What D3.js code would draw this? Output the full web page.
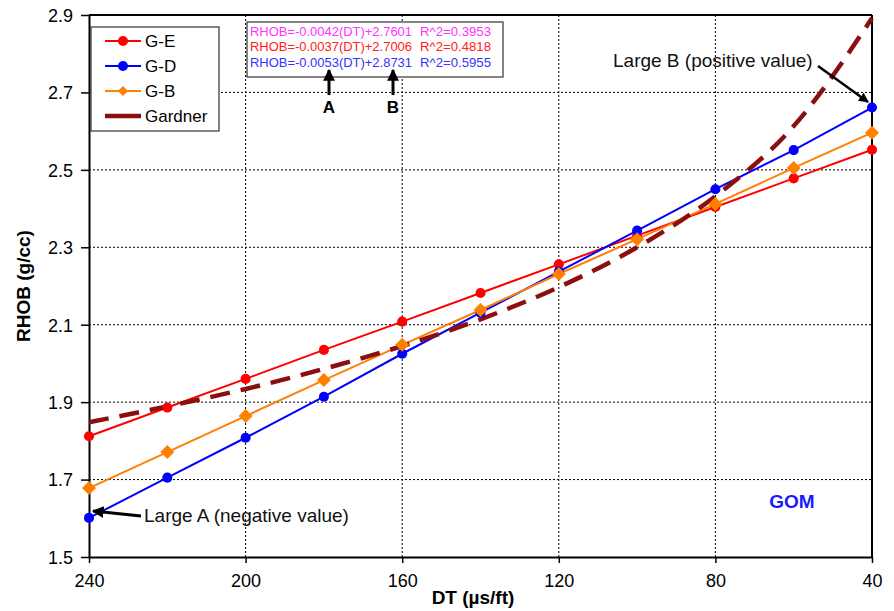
<!DOCTYPE html>
<html><head><meta charset="utf-8">
<script src="https://cdn.jsdelivr.net/npm/d3@7"></script>
<style>
body{margin:0;background:#fff;}
text{font-family:"Liberation Sans",Arial,sans-serif;}
</style></head>
<body>
<svg id="c" width="894" height="611"></svg>
<script>
const dtValues = [240,220,200,180,160,140,120,100,80,60,40];
const seriesGE = [1.812,1.886,1.960,2.035,2.108,2.182,2.256,2.330,2.404,2.478,2.552];
const seriesGD = [1.601,1.705,1.808,1.914,2.025,2.131,2.237,2.343,2.450,2.551,2.661];
const seriesGB = [1.678,1.771,1.864,1.957,2.048,2.138,2.231,2.321,2.412,2.505,2.596];
const gardner  = [1.848,1.889,1.934,1.986,2.045,2.114,2.197,2.300,2.432,2.613,2.892];
const xTicks = [240,200,160,120,80,40];
const yTicks = [1.5,1.7,1.9,2.1,2.3,2.5,2.7,2.9];
const legendLabels = ["G-E","G-D","G-B","Gardner"];
const equations = [
  {eq:"RHOB=-0.0042(DT)+2.7601", r2:"R^2=0.3953", color:"#ff33ff"},
  {eq:"RHOB=-0.0037(DT)+2.7006", r2:"R^2=0.4818", color:"#ff2020"},
  {eq:"RHOB=-0.0053(DT)+2.8731", r2:"R^2=0.5955", color:"#3333ff"}
];

const svg = d3.select("#c");
const L=89,R=872,T=15,B=557;
const x = d3.scaleLinear().domain([240,40]).range([L,R]);
const y = d3.scaleLinear().domain([1.5,2.9]).range([B,T]);

const g = svg.append("g");
g.selectAll(".gx").data(xTicks.slice(1,-1)).enter().append("line")
  .attr("x1",d=>x(d)).attr("x2",d=>x(d)).attr("y1",T).attr("y2",B)
  .attr("stroke","#000").attr("stroke-width",1).attr("stroke-dasharray","2,2");
g.selectAll(".gy").data(yTicks.slice(1,-1)).enter().append("line")
  .attr("y1",d=>y(d)).attr("y2",d=>y(d)).attr("x1",L).attr("x2",R)
  .attr("stroke","#000").attr("stroke-width",1).attr("stroke-dasharray","2,2");

svg.append("line").attr("x1",L).attr("x2",R).attr("y1",T).attr("y2",T).attr("stroke","#000").attr("stroke-width",2);
svg.append("line").attr("x1",R).attr("x2",R).attr("y1",T).attr("y2",B).attr("stroke","#000").attr("stroke-width",2);

const xAxis = svg.append("g").attr("transform",`translate(0,${B})`)
  .call(d3.axisBottom(x).tickValues(xTicks).tickFormat(d3.format("d")).tickSize(6).tickSizeOuter(0));
const yAxis = svg.append("g").attr("transform",`translate(${L},0)`)
  .call(d3.axisLeft(y).tickValues(yTicks).tickFormat(d3.format(".1f")).tickSize(8).tickSizeOuter(0));
[xAxis,yAxis].forEach(a=>{
  a.select(".domain").attr("stroke","#000").attr("stroke-width",2);
  a.selectAll(".tick line").attr("stroke","#000").attr("stroke-width",1.5);
  a.selectAll(".tick text").attr("fill","#000").style("font-size","18px").style("font-family","'Liberation Sans',Arial,sans-serif");
});
xAxis.selectAll(".tick text").attr("dy","0").attr("y",30);
yAxis.selectAll(".tick text").attr("x",-16).attr("dy","0.35em");

svg.append("text").attr("x",473).attr("y",604).attr("text-anchor","middle")
  .style("font-size","19px").style("font-weight","bold").text("DT (µs/ft)");
svg.append("text").attr("transform",`translate(30,${(T+B)/2}) rotate(-90)`).attr("text-anchor","middle")
  .style("font-size","19px").style("font-weight","bold").text("RHOB (g/cc)");

const line = d3.line().x(d=>x(d[0])).y(d=>y(d[1]));
const diamond = s => `M0,${-s}L${s},0L0,${s}L${-s},0Z`;
const series = [
  {vals:seriesGE,color:"#ff0000",shape:"circle"},
  {vals:seriesGD,color:"#0000ff",shape:"circle"},
  {vals:seriesGB,color:"#ff7f00",shape:"diamond"}
];
series.forEach(s=>{
  svg.append("path").datum(dtValues.map((d,i)=>[d,s.vals[i]])).attr("d",line)
    .attr("fill","none").attr("stroke",s.color).attr("stroke-width",2);
});
svg.append("path").datum(dtValues.map((d,i)=>[d,gardner[i]]))
  .attr("d",d3.line().x(d=>x(d[0])).y(d=>y(d[1])).curve(d3.curveMonotoneX))
  .attr("fill","none").attr("stroke","#8b0f0f").attr("stroke-width",4.5)
  .attr("stroke-dasharray","20,11");
series.forEach(s=>{
  svg.selectAll(null).data(dtValues.map((d,i)=>[d,s.vals[i]])).enter().append("path")
    .attr("d",s.shape==="circle"?d3.symbol().type(d3.symbolCircle).size(80)():diamond(7))
    .attr("transform",d=>`translate(${x(d[0])},${y(d[1])})`).attr("fill",s.color);
});

const lg = svg.append("g");
lg.append("rect").attr("x",91).attr("y",27).attr("width",128).attr("height",104)
  .attr("fill","#fff").attr("stroke","#333").attr("stroke-width",1.2);
const lcolors = ["#ff0000","#0000ff","#ff7f00","#8b0f0f"];
legendLabels.forEach((lab,i)=>{
  const yy = 41 + i*25;
  lg.append("line").attr("x1",105).attr("x2",141).attr("y1",yy).attr("y2",yy)
    .attr("stroke",lcolors[i]).attr("stroke-width",i===3?4.5:2);
  if(i<2) lg.append("circle").attr("cx",123).attr("cy",yy).attr("r",5).attr("fill",lcolors[i]);
  if(i===2) lg.append("path").attr("d",diamond(5)).attr("transform",`translate(123,${yy})`).attr("fill",lcolors[i]);
  lg.append("text").attr("x",145).attr("y",yy).attr("dy","0.36em").style("font-size","17px").text(lab);
});

const eg = svg.append("g");
eg.append("rect").attr("x",247).attr("y",22).attr("width",256).attr("height",55)
  .attr("fill","#fff").attr("stroke","#333").attr("stroke-width",1.2);
equations.forEach((e,i)=>{
  const yy = 31 + i*15.5;
  eg.append("text").attr("x",250).attr("y",yy).attr("dy","0.36em").attr("fill",e.color).style("font-size","13.5px")
    .attr("textLength",162).attr("lengthAdjust","spacingAndGlyphs").text(e.eq);
  eg.append("text").attr("x",420).attr("y",yy).attr("dy","0.36em").attr("fill",e.color).style("font-size","13.5px")
    .attr("textLength",71).attr("lengthAdjust","spacingAndGlyphs").text(e.r2);
});

const defs = svg.append("defs");
defs.append("marker").attr("id","ah").attr("viewBox","0 0 10 10").attr("refX",9).attr("refY",5)
  .attr("markerWidth",4).attr("markerHeight",4).attr("orient","auto")
  .append("path").attr("d","M0,0 L10,5 L0,10 z").attr("fill","#000");
function arrow(x1,y1,x2,y2,w){
  svg.append("line").attr("x1",x1).attr("y1",y1).attr("x2",x2).attr("y2",y2)
    .attr("stroke","#000").attr("stroke-width",w).attr("marker-end","url(#ah)");
}
arrow(329,95,329,70,3);
arrow(393,95,393,70,3);
svg.append("text").attr("x",329).attr("y",113).attr("text-anchor","middle").style("font-size","17px").style("font-weight","bold").text("A");
svg.append("text").attr("x",393).attr("y",113).attr("text-anchor","middle").style("font-size","17px").style("font-weight","bold").text("B");

arrow(818,66,868,102,2.5);
svg.append("text").attr("x",613).attr("y",67).style("font-size","19px").attr("fill","#111").text("Large B (positive value)");
arrow(141,516,93,511,3);
svg.append("text").attr("x",144).attr("y",522).style("font-size","19px").attr("fill","#111").text("Large A (negative value)");

svg.append("text").attr("x",792).attr("y",508).attr("text-anchor","middle").attr("fill","#1a1aff")
  .style("font-size","19px").style("font-weight","bold").text("GOM");
</script>
</body></html>
